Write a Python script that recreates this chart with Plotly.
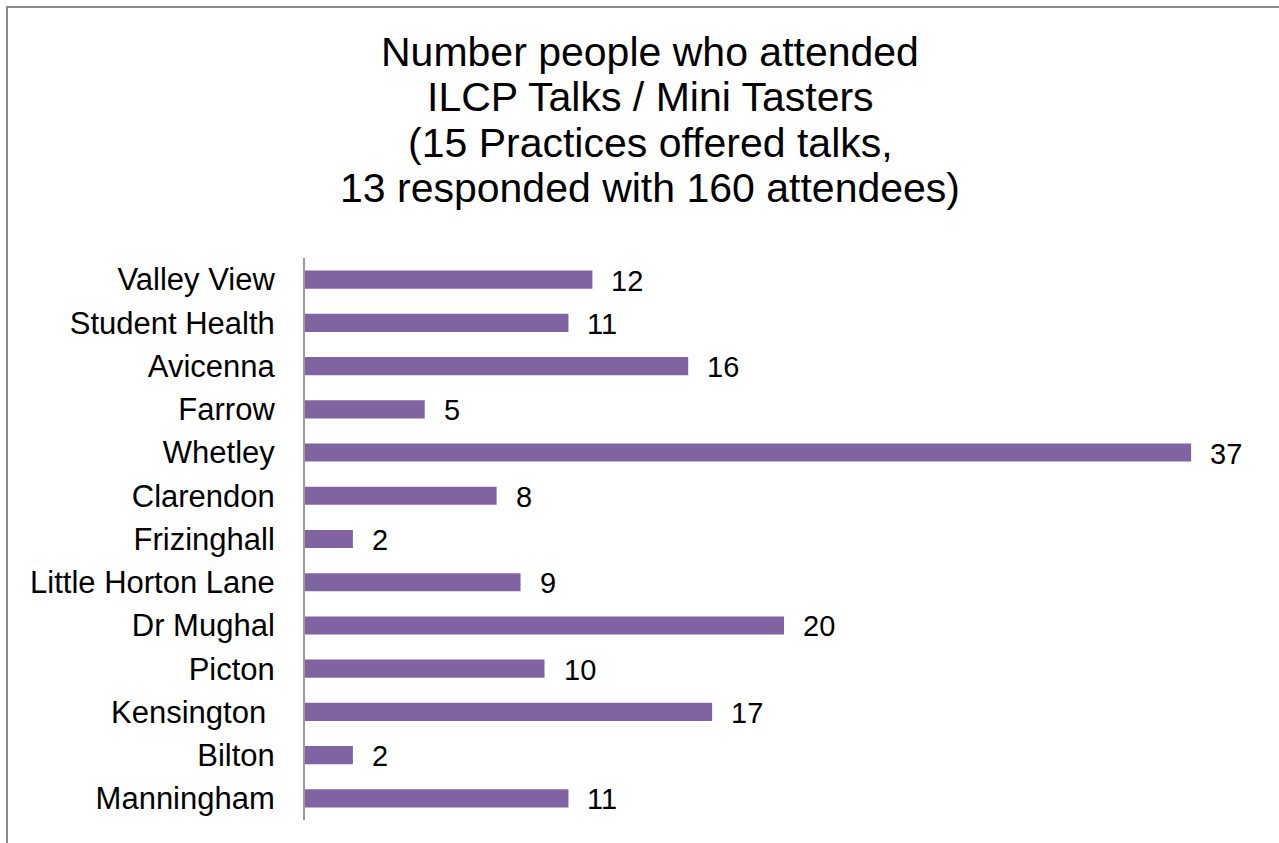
import plotly.graph_objects as go

practices = ["Valley View", "Student Health", "Avicenna", "Farrow", "Whetley",
             "Clarendon", "Frizinghall", "Little Horton Lane", "Dr Mughal",
             "Picton", "Kensington ", "Bilton", "Manningham"]
attendees = [12, 11, 16, 5, 37, 8, 2, 9, 20, 10, 17, 2, 11]
title_lines = ["Number people who attended",
               "ILCP Talks / Mini Tasters",
               "(15 Practices offered talks,",
               "13 responded with 160 attendees)"]

W, H = 1279, 843
L, R, T, B = 305, 16, 258, 23
pw = W - L - R
ph = H - T - B
FONT = "'Liberation Sans', Arial, sans-serif"

fig = go.Figure(go.Bar(
    x=attendees, y=practices, orientation="h",
    marker=dict(color="#8064A2", line=dict(width=0)),
    width=0.42,
))

# value labels to the right of each bar
for name, v in zip(practices, attendees):
    fig.add_annotation(x=v, y=name, xref="x", yref="y", text=str(v),
                       showarrow=False, xanchor="left", yanchor="middle",
                       xshift=17, yshift=-1,
                       font=dict(size=29, color="#000000", family=FONT))

fig.update_layout(
    width=W, height=H,
    margin=dict(l=L, r=R, t=T, b=B),
    paper_bgcolor="white", plot_bgcolor="white",
    showlegend=False,
    font=dict(family=FONT, color="#000000"),
    xaxis=dict(range=[0, 40], visible=False, fixedrange=True),
    yaxis=dict(autorange="reversed", showline=True, linecolor="#9a9a9a",
               linewidth=2, ticks="", ticklabelstandoff=22,
               tickfont=dict(size=31, color="#000000"), showgrid=False),
    bargap=0.58,
)

# slide frame
fig.add_shape(type="rect", xref="paper", yref="paper",
              x0=(7 - L) / pw, x1=(W + 20 - L) / pw,
              y0=(H - (H + 20) - B) / ph, y1=(H - 7 - B) / ph,
              line=dict(color="#8c8c8c", width=2), fillcolor="rgba(0,0,0,0)")

# title, one annotation per line
for i, line in enumerate(title_lines):
    yc = 52 + i * 45.3
    fig.add_annotation(
        text=line, xref="paper", yref="paper",
        x=(650 - L) / pw, y=(H - yc - B) / ph,
        xanchor="center", yanchor="middle", showarrow=False,
        font=dict(size=41, color="#000000", family=FONT), align="center",
    )

fig.write_html("out.html")
